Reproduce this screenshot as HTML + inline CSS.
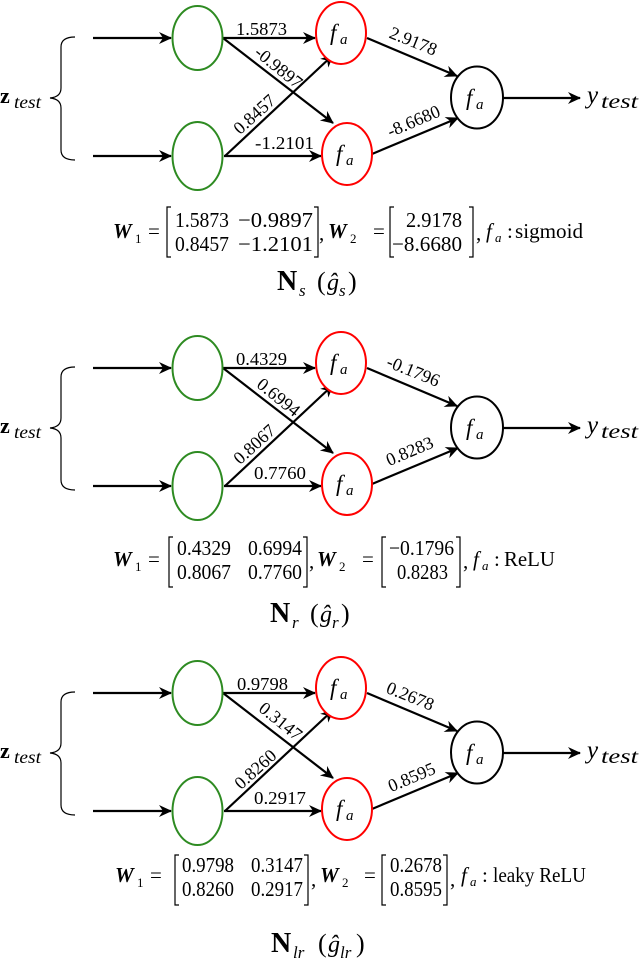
<!DOCTYPE html>
<html><head><meta charset="utf-8"><style>
html,body{margin:0;padding:0;background:#fff;}
svg{display:block;}
text{font-family:"Liberation Serif","DejaVu Serif",serif;fill:#000;}
.e{font-size:18px;}
.m{font-size:21px;}
.s{font-size:13px;}
.i{font-style:italic;}
.b{font-weight:bold;}
</style></head><body>
<svg width="640" height="963" viewBox="0 0 640 963" xmlns="http://www.w3.org/2000/svg">
<defs>
<marker id="a" markerUnits="userSpaceOnUse" markerWidth="14" markerHeight="12" refX="12" refY="6" orient="auto">
<path d="M0,0 L13,6 L0,12 L4,6 z" fill="#000"/>
</marker>
<g id="net">
<path d="M75,37 Q61,37 61,47 L61,88 Q61,97 50,98 Q61,99 61,108 L61,150 Q61,160 75,160" fill="none" stroke="#000" stroke-width="1.2"/>
<g stroke="#000" stroke-width="2.2" fill="none">
<line x1="93" y1="38" x2="171" y2="38" marker-end="url(#a)"/>
<line x1="93" y1="156" x2="171" y2="156" marker-end="url(#a)"/>
<line x1="223" y1="38" x2="315" y2="38" marker-end="url(#a)"/>
<line x1="224" y1="156" x2="321" y2="156" marker-end="url(#a)"/>
<line x1="223" y1="38" x2="333" y2="123" marker-end="url(#a)"/>
<line x1="225" y1="156" x2="333" y2="55" marker-end="url(#a)"/>
<line x1="367" y1="38" x2="457" y2="76" marker-end="url(#a)"/>
<line x1="372" y1="154" x2="458" y2="118" marker-end="url(#a)"/>
<line x1="503" y1="98" x2="580" y2="98" marker-end="url(#a)"/>
</g>
<ellipse cx="197.5" cy="38" rx="25" ry="32" fill="none" stroke="#2e8b22" stroke-width="2"/>
<ellipse cx="197.5" cy="156" rx="25" ry="34" fill="none" stroke="#2e8b22" stroke-width="2"/>
<ellipse cx="341" cy="33" rx="25" ry="31" fill="#fff" stroke="#f00" stroke-width="2"/>
<ellipse cx="347" cy="154" rx="25" ry="31" fill="#fff" stroke="#f00" stroke-width="2"/>
<ellipse cx="477" cy="97.5" rx="26" ry="31" fill="#fff" stroke="#000" stroke-width="2"/>
<text x="330" y="40" style="font-size:23px;font-style:italic">f</text><text x="340" y="44" style="font-size:15px;font-style:italic">a</text>
<text x="336" y="161" style="font-size:23px;font-style:italic">f</text><text x="346" y="165" style="font-size:15px;font-style:italic">a</text>
<text x="466" y="105" style="font-size:23px;font-style:italic">f</text><text x="476" y="109" style="font-size:15px;font-style:italic">a</text>
<text x="0" y="103" style="font-size:22px;font-weight:bold">z</text><text x="14" y="108" style="font-size:18px;font-style:italic" textLength="27" lengthAdjust="spacingAndGlyphs">test</text>
<text x="587" y="103" style="font-size:25px;font-style:italic">y</text><text x="601" y="108" style="font-size:20px;font-style:italic" textLength="37" lengthAdjust="spacingAndGlyphs">test</text>
</g>
</defs>

<!-- Network 1 -->
<use href="#net"/>
<text x="236" y="35" class="e" textLength="51" lengthAdjust="spacingAndGlyphs">1.5873</text>
<text x="255" y="149" class="e" textLength="59" lengthAdjust="spacingAndGlyphs">-1.2101</text>
<text transform="translate(278,68) rotate(39)" text-anchor="middle" y="5" class="e">-0.9897</text>
<text transform="translate(255,115) rotate(-42)" text-anchor="middle" y="5" class="e">0.8457</text>
<text transform="translate(413,42) rotate(22)" text-anchor="middle" y="5" class="e">2.9178</text>
<text transform="translate(414,122) rotate(-23)" text-anchor="middle" y="5" class="e">-8.6680</text>

<g>
<text x="113" y="238" class="m b i">W</text><text x="135" y="243" class="s">1</text><text x="148" y="238" class="m">=</text>
<path d="M171,207 h-4 v50 h4" fill="none" stroke="#000" stroke-width="1.2"/>
<text x="175" y="227" class="m" textLength="54" lengthAdjust="spacingAndGlyphs">1.5873</text>
<text x="175" y="251" class="m" textLength="54" lengthAdjust="spacingAndGlyphs">0.8457</text>
<text x="238" y="227" class="m" textLength="75" lengthAdjust="spacingAndGlyphs">−0.9897</text>
<text x="238" y="251" class="m" textLength="75" lengthAdjust="spacingAndGlyphs">−1.2101</text>
<path d="M314,207 h4 v50 h-4" fill="none" stroke="#000" stroke-width="1.2"/>
<text x="319" y="240" class="m">,</text>
<text x="328" y="238" class="m b i">W</text><text x="350" y="243" class="s">2</text><text x="373" y="238" class="m">=</text>
<path d="M394,207 h-4 v50 h4" fill="none" stroke="#000" stroke-width="1.2"/>
<text x="462" y="227" class="m" text-anchor="end" textLength="56" lengthAdjust="spacingAndGlyphs">2.9178</text>
<text x="462" y="251" class="m" text-anchor="end" textLength="70" lengthAdjust="spacingAndGlyphs">−8.6680</text>
<path d="M469,207 h4 v50 h-4" fill="none" stroke="#000" stroke-width="1.2"/>
<text x="476" y="240" class="m">,</text>
<text x="486" y="238" class="m i">f</text><text x="495" y="242" class="s i">a</text><text x="507" y="238" class="m">:</text>
<text x="515" y="238" class="m" textLength="68" lengthAdjust="spacingAndGlyphs">sigmoid</text>
</g>
<text x="277" y="290" style="font-size:28px;font-weight:bold">N</text><text x="299" y="296" style="font-size:17px;font-style:italic">s</text>
<text x="317" y="290" style="font-size:26px">(</text><text x="327" y="290" style="font-size:24px;font-style:italic">ĝ</text><text x="339" y="296" style="font-size:17px;font-style:italic">s</text><text x="348" y="290" style="font-size:26px">)</text>

<!-- Network 2 -->
<use href="#net" y="330"/>
<text x="236" y="365" class="e" textLength="51" lengthAdjust="spacingAndGlyphs">0.4329</text>
<text x="254" y="479" class="e" textLength="52" lengthAdjust="spacingAndGlyphs">0.7760</text>
<text transform="translate(278,398) rotate(39)" text-anchor="middle" y="5" class="e">0.6994</text>
<text transform="translate(255,445) rotate(-42)" text-anchor="middle" y="5" class="e">0.8067</text>
<text transform="translate(413,372) rotate(22)" text-anchor="middle" y="5" class="e">-0.1796</text>
<text transform="translate(410,452) rotate(-23)" text-anchor="middle" y="5" class="e">0.8283</text>

<g>
<text x="113" y="566" class="m b i">W</text><text x="135" y="571" class="s">1</text><text x="148" y="566" class="m">=</text>
<path d="M173,537 h-4 v50 h4" fill="none" stroke="#000" stroke-width="1.2"/>
<text x="177" y="555" class="m" textLength="54" lengthAdjust="spacingAndGlyphs">0.4329</text>
<text x="177" y="579" class="m" textLength="54" lengthAdjust="spacingAndGlyphs">0.8067</text>
<text x="248" y="555" class="m" textLength="54" lengthAdjust="spacingAndGlyphs">0.6994</text>
<text x="248" y="579" class="m" textLength="54" lengthAdjust="spacingAndGlyphs">0.7760</text>
<path d="M303,537 h4 v50 h-4" fill="none" stroke="#000" stroke-width="1.2"/>
<text x="309" y="568" class="m">,</text>
<text x="317" y="566" class="m b i">W</text><text x="339" y="571" class="s">2</text><text x="362" y="566" class="m">=</text>
<path d="M386,537 h-4 v50 h4" fill="none" stroke="#000" stroke-width="1.2"/>
<text x="389" y="555" class="m" textLength="65" lengthAdjust="spacingAndGlyphs">−0.1796</text>
<text x="397" y="579" class="m" textLength="51" lengthAdjust="spacingAndGlyphs">0.8283</text>
<path d="M456,537 h4 v50 h-4" fill="none" stroke="#000" stroke-width="1.2"/>
<text x="463" y="568" class="m">,</text>
<text x="473" y="566" class="m i">f</text><text x="482" y="570" class="s i">a</text><text x="494" y="566" class="m">:</text>
<text x="504" y="566" class="m" textLength="51" lengthAdjust="spacingAndGlyphs">ReLU</text>
</g>
<text x="270" y="622" style="font-size:28px;font-weight:bold">N</text><text x="292" y="628" style="font-size:17px;font-style:italic">r</text>
<text x="310" y="622" style="font-size:26px">(</text><text x="320" y="622" style="font-size:24px;font-style:italic">ĝ</text><text x="332" y="628" style="font-size:17px;font-style:italic">r</text><text x="341" y="622" style="font-size:26px">)</text>

<!-- Network 3 -->
<use href="#net" y="655"/>
<text x="237" y="690" class="e" textLength="51" lengthAdjust="spacingAndGlyphs">0.9798</text>
<text x="254" y="804" class="e" textLength="52" lengthAdjust="spacingAndGlyphs">0.2917</text>
<text transform="translate(280,722) rotate(39)" text-anchor="middle" y="5" class="e">0.3147</text>
<text transform="translate(256,770) rotate(-42)" text-anchor="middle" y="5" class="e">0.8260</text>
<text transform="translate(410,697) rotate(22)" text-anchor="middle" y="5" class="e">0.2678</text>
<text transform="translate(412,778) rotate(-23)" text-anchor="middle" y="5" class="e">0.8595</text>

<g>
<text x="115" y="882" class="m b i">W</text><text x="137" y="887" class="s">1</text><text x="150" y="882" class="m">=</text>
<path d="M179,855 h-4 v50 h4" fill="none" stroke="#000" stroke-width="1.2"/>
<text x="182" y="872" class="m" textLength="52" lengthAdjust="spacingAndGlyphs">0.9798</text>
<text x="182" y="896" class="m" textLength="52" lengthAdjust="spacingAndGlyphs">0.8260</text>
<text x="251" y="872" class="m" textLength="52" lengthAdjust="spacingAndGlyphs">0.3147</text>
<text x="251" y="896" class="m" textLength="52" lengthAdjust="spacingAndGlyphs">0.2917</text>
<path d="M304,855 h4 v50 h-4" fill="none" stroke="#000" stroke-width="1.2"/>
<text x="311" y="886" class="m">,</text>
<text x="320" y="882" class="m b i">W</text><text x="342" y="887" class="s">2</text><text x="364" y="882" class="m">=</text>
<path d="M386,855 h-4 v50 h4" fill="none" stroke="#000" stroke-width="1.2"/>
<text x="390" y="872" class="m" textLength="52" lengthAdjust="spacingAndGlyphs">0.2678</text>
<text x="390" y="896" class="m" textLength="52" lengthAdjust="spacingAndGlyphs">0.8595</text>
<path d="M443,855 h4 v50 h-4" fill="none" stroke="#000" stroke-width="1.2"/>
<text x="450" y="886" class="m">,</text>
<text x="461" y="882" class="m i">f</text><text x="470" y="886" class="s i">a</text><text x="482" y="882" class="m">:</text>
<text x="493" y="882" class="m" textLength="93" lengthAdjust="spacingAndGlyphs">leaky ReLU</text>
</g>
<text x="271" y="952" style="font-size:28px;font-weight:bold">N</text><text x="293" y="958" style="font-size:17px;font-style:italic">lr</text>
<text x="318" y="952" style="font-size:26px">(</text><text x="328" y="952" style="font-size:24px;font-style:italic">ĝ</text><text x="340" y="958" style="font-size:17px;font-style:italic">lr</text><text x="356" y="952" style="font-size:26px">)</text>
</svg>
</body></html>
